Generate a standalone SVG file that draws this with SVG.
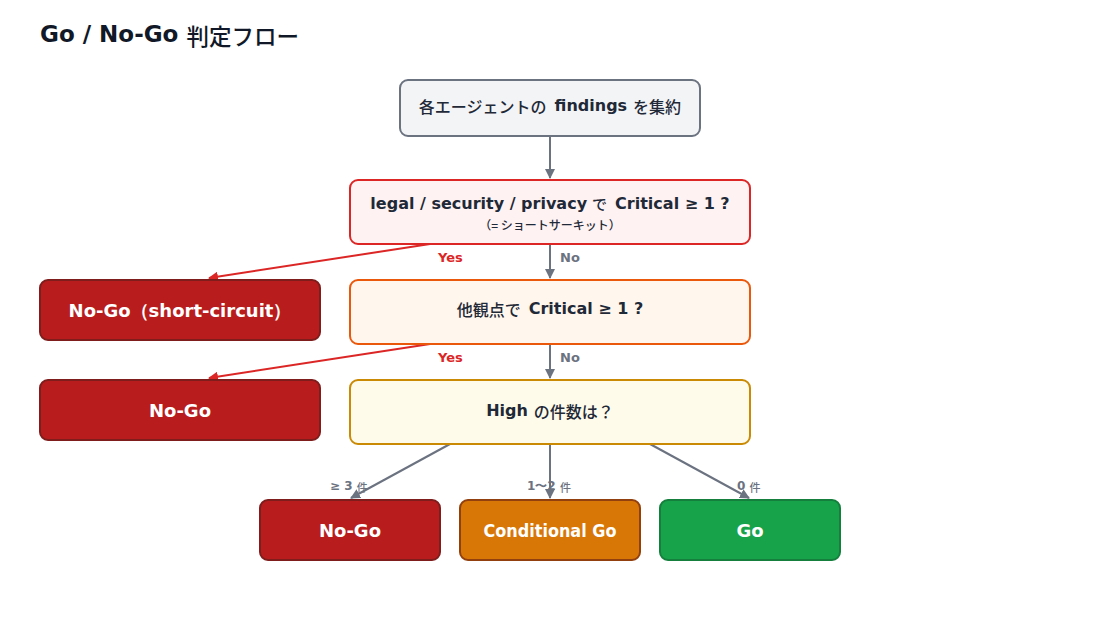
<svg xmlns="http://www.w3.org/2000/svg" width="1100" height="620" viewBox="0 0 1100 620">
  <style>
    .lat { font-family: "DejaVu Sans", Verdana, sans-serif; font-weight: bold; }
    .jp { font-family: "Noto Sans CJK JP", sans-serif; font-weight: 500; }
    .dark { fill: #1f2937; }
    .white { fill: #ffffff; }
    .edge { stroke: #6b7280; stroke-width: 2; fill: none; }
    .edge-red { stroke: #dc2626; stroke-width: 2; fill: none; }
    .lbl { font-family: "DejaVu Sans", Verdana, sans-serif; font-weight: bold; font-size: 12px; fill: #6b7280; }
    .lbl13 { font-size: 13px; }
  </style>
  <defs>
    <marker id="ah" viewBox="0 0 10 10" refX="9" refY="5" markerWidth="5" markerHeight="5" orient="auto">
      <path d="M0,0 L10,5 L0,10 z" fill="#6b7280"/>
    </marker>
    <marker id="ahr" viewBox="0 0 10 10" refX="9" refY="5" markerWidth="5" markerHeight="5" orient="auto">
      <path d="M0,0 L10,5 L0,10 z" fill="#dc2626"/>
    </marker>
  </defs>
  <rect width="1100" height="620" fill="#ffffff"/>

  <text x="40" y="42" fill="#111827"><tspan class="lat" font-size="23">Go / No-Go</tspan><tspan class="jp" dx="8" dy="3" font-size="22.5">判定フロー</tspan></text>

  <g id="connectors">
    <line class="edge" x1="550" y1="136" x2="550" y2="178" marker-end="url(#ah)"/>
    <line class="edge-red" x1="430" y1="244" x2="209" y2="278" marker-end="url(#ahr)"/>
    <line class="edge" x1="550" y1="244" x2="550" y2="278" marker-end="url(#ah)"/>
    <text class="lbl lbl13" x="438" y="262" style="fill:#dc2626">Yes</text>
    <text class="lbl lbl13" x="560" y="262">No</text>
    <line class="edge-red" x1="430" y1="344" x2="209" y2="378" marker-end="url(#ahr)"/>
    <line class="edge" x1="550" y1="344" x2="550" y2="378" marker-end="url(#ah)"/>
    <text class="lbl lbl13" x="438" y="362" style="fill:#dc2626">Yes</text>
    <text class="lbl lbl13" x="560" y="362">No</text>
    <line class="edge" x1="450" y1="444" x2="351" y2="498" marker-end="url(#ah)"/>
    <line class="edge" x1="550" y1="444" x2="550" y2="498" marker-end="url(#ah)"/>
    <line class="edge" x1="650" y1="444" x2="749" y2="498" marker-end="url(#ah)"/>
    <text class="lbl" x="330" y="490">≥ 3 <tspan class="jp" font-size="11" dy="2">件</tspan></text>
    <text class="lbl" x="527" y="490">1〜2 <tspan class="jp" font-size="11" dy="2">件</tspan></text>
    <text class="lbl" x="737" y="490">0 <tspan class="jp" font-size="11" dy="2">件</tspan></text>
  </g>

  <g id="collect">
    <rect x="400" y="80" width="300" height="56" rx="8" fill="#f3f4f6" stroke="#6b7280" stroke-width="2"/>
    <text x="550" y="113" text-anchor="middle" font-size="16" class="dark"><tspan class="jp">各エージェントの</tspan><tspan class="lat" dx="8" dy="-2">findings</tspan><tspan class="jp" dx="6" dy="2">を集約</tspan></text>
  </g>

  <g id="q1">
    <rect x="350" y="180" width="400" height="64" rx="8" fill="#fef2f2" stroke="#dc2626" stroke-width="2"/>
    <text x="550" y="209" text-anchor="middle" font-size="16" class="dark"><tspan class="lat">legal / security / privacy</tspan><tspan class="jp" dx="5" font-size="15" dy="1">で</tspan><tspan class="lat" dx="8" dy="-1">Critical ≥ 1 ?</tspan></text>
    <text x="550" y="230" text-anchor="middle" font-size="12" class="jp dark">（= ショートサーキット）</text>
  </g>

  <g id="nogo-sc">
    <rect x="40" y="280" width="280" height="60" rx="8" fill="#b91c1c" stroke="#7f1d1d" stroke-width="2"/>
    <text x="180" y="317" text-anchor="middle" font-size="18" class="lat white">No-Go（short-circuit）</text>
  </g>

  <g id="q2">
    <rect x="350" y="280" width="400" height="64" rx="8" fill="#fff7ed" stroke="#ea580c" stroke-width="2"/>
    <text x="550" y="316" text-anchor="middle" font-size="16" class="dark"><tspan class="jp">他観点で</tspan><tspan class="lat" dx="8" dy="-2">Critical ≥ 1 ?</tspan></text>
  </g>

  <g id="nogo-crit">
    <rect x="40" y="380" width="280" height="60" rx="8" fill="#b91c1c" stroke="#7f1d1d" stroke-width="2"/>
    <text x="180" y="417" text-anchor="middle" font-size="18" class="lat white">No-Go</text>
  </g>

  <g id="q3">
    <rect x="350" y="380" width="400" height="64" rx="8" fill="#fefbea" stroke="#ca8a04" stroke-width="2"/>
    <text x="550" y="418" text-anchor="middle" font-size="16" class="dark"><tspan class="lat" dy="-2">High</tspan><tspan class="jp" dx="6" dy="2">の件数は？</tspan></text>
  </g>

  <g id="nogo-high">
    <rect x="260" y="500" width="180" height="60" rx="8" fill="#b91c1c" stroke="#7f1d1d" stroke-width="2"/>
    <text x="350" y="537" text-anchor="middle" font-size="18" class="lat white">No-Go</text>
  </g>

  <g id="cond-go">
    <rect x="460" y="500" width="180" height="60" rx="8" fill="#d97706" stroke="#92400e" stroke-width="2"/>
    <text x="550" y="537" text-anchor="middle" font-size="18" class="lat white" textLength="133" lengthAdjust="spacingAndGlyphs">Conditional Go</text>
  </g>

  <g id="go">
    <rect x="660" y="500" width="180" height="60" rx="8" fill="#16a34a" stroke="#15803d" stroke-width="2"/>
    <text x="750" y="537" text-anchor="middle" font-size="18" class="lat white">Go</text>
  </g>
</svg>
